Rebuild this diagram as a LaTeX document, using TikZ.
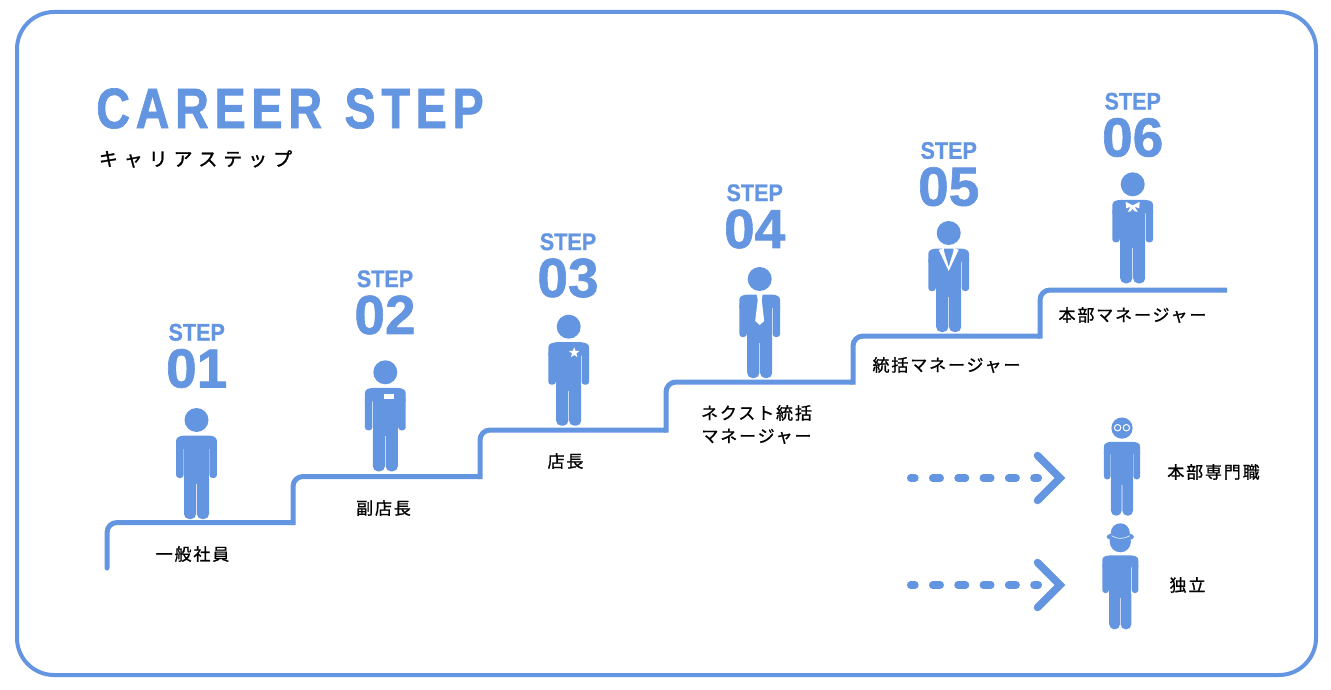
\documentclass[tikz,border=0pt]{standalone}
\usepackage{fontspec}
\usetikzlibrary{shapes.geometric}
\setmainfont{Liberation Sans}
\newfontfamily\titlefont[FakeStretch=.82,LetterSpace=10,WordSpace=1.2,FakeBold=1.2]{Liberation Sans}
\newfontfamily\stepfont[FakeStretch=.9,FakeBold=.9]{Liberation Sans}
\newfontfamily\numfont[FakeBold=1.2]{Liberation Sans}
\newfontfamily\jpfont[LetterSpace=11,FakeBold=1]{Noto Sans CJK JP}
\newfontfamily\jptitlefont[LetterSpace=31,FakeBold=1.3]{Noto Sans CJK JP}
\definecolor{careerblue}{HTML}{6495E0}
\tikzset{
	stepword/.style={text=careerblue,inner sep=0pt,font=\stepfont\bfseries\fontsize{24}{24}\selectfont},
	stepnum/.style={text=careerblue,inner sep=0pt,font=\numfont\bfseries\fontsize{55}{55}\selectfont},
	joblabel/.style={text=black,inner sep=0pt,align=center,font=\jpfont\fontsize{17}{23}\selectfont},
	stair/.style={draw=careerblue,line width=5pt,line cap=round,miter limit=10},
	dots/.style={draw=careerblue,line width=7.5pt,line cap=round,dash pattern=on 7.5pt off 17.8pt,dash phase=3.3pt},
	chevron/.style={draw=careerblue,line width=7.5pt,line cap=round,line join=miter},
	pics/staffman/.style={code={
		\fill[careerblue] (0,-99) circle (12);
		\fill[careerblue] (-20.4,-70) -- (-20.4,-78) .. controls (-20.4,-82) and (-17,-83) .. (-12,-83.5) -- (12,-83.5) .. controls (17,-83) and (20.4,-82) .. (20.4,-78) -- (20.4,-70) -- cycle;
		\fill[careerblue,rounded corners=3pt] (-20.4,-75) rectangle (-12.9,-41);
		\fill[careerblue,rounded corners=3pt] (12.9,-75) rectangle (20.4,-41);
		\fill[careerblue] (-12.5,-80) rectangle (12.5,-35);
		\fill[careerblue,rounded corners=5pt] (-12.5,-45) rectangle (-.4,0);
		\fill[careerblue,rounded corners=5pt] (.4,-45) rectangle (12.5,0);
		\fill[careerblue] (-12.5,-45) rectangle (12.5,-38);
	}},
	pics/nametag/.style={code={\fill[white] (-1,-77) rectangle (9,-72);}},
	pics/starbadge/.style={code={
		\node[star,star points=5,star point ratio=2.4,fill=white,inner sep=0pt,minimum size=11pt] (badge) at (5.5,-73) {};
	}},
	pics/longtie/.style={code={
		\fill[white] (-3,-84) -- (3,-84) -- (2,-78) -- (4.5,-57) -- (0,-53) -- (-4.5,-57) -- (-2,-78) -- cycle;
	}},
	pics/lapels/.style={code={
		\fill[white] (-10,-82) -- (-5,-84) -- (-4.5,-80) -- (0,-65) -- (4.5,-80) -- (5,-84) -- (10,-82) -- (8,-78) -- (0,-61) -- (-8,-78) -- cycle;
	}},
	pics/bowtie/.style={code={
		\fill[white] (-7,-81.5) -- (0,-78) -- (7,-81.5) -- (6.5,-75) -- (2,-76.5) -- (5,-71.5) -- (2,-72) -- (0,-74.5) -- (-2,-72) -- (-5,-71.5) -- (-2,-76.5) -- (-6.5,-75) -- cycle;
	}},
	pics/glasses/.style={code={
		\draw[white,line width=1pt] (-4.4,-88) circle (3.2) (4.4,-88) circle (3.2);
	}},
	pics/bowlerhat/.style={code={
		\fill[careerblue] (0,-96.5) circle (9.5);
		\fill[careerblue] (0,-92.5) ellipse (13.7 and 4.5);
		\draw[white,line width=.6pt] (-8.6,-93.6) .. controls (-4,-90) and (4,-90) .. (9.5,-93.6);
	}},
}
\begin{document}
\begin{tikzpicture}[x=1pt,y=-1pt]
	\useasboundingbox (0,0) rectangle (1331,690);
	\draw[careerblue,line width=4pt,rounded corners=37pt] (17,12) rectangle (1316,675);
	\node[inner sep=0pt,text=careerblue,font=\titlefont\bfseries\fontsize{57}{57}\selectfont] (title) at (290,108.5) {CAREER STEP};
	\node[inner sep=0pt,font=\jptitlefont\fontsize{19}{19}\selectfont] (subtitle) at (195.5,159) {キャリアステップ};
	% stairs
	\draw[stair] (107,568) [rounded corners=10pt] |- (293,522.5);
	\draw[stair,line cap=butt] (293,525) [rounded corners=10pt] |- (480,476.5);
	\draw[stair,line cap=butt] (480,479) [rounded corners=10pt] |- (666,430);
	\draw[stair,line cap=butt] (666,432.5) [rounded corners=10pt] |- (853,382);
	\draw[stair,line cap=butt] (853,384.5) [rounded corners=10pt] |- (1040,336);
	\draw[stair,line cap=butt] (1040,338.5) [rounded corners=10pt] |- (1227,290);
	% people
	\foreach \nm/\px/\fy in {01/196.5/519,02/385.3/471.3,03/568.7/425.7,04/759.7/378,05/948.7/332,06/1132.7/283.3}{
		\coordinate (man\nm) at (\px,\fy);
		\pic at (man\nm) {staffman};
	}
	\pic at (man02) {nametag};
	\pic at (man03) {starbadge};
	\pic at (man04) {longtie};
	\pic at (man05) {lapels};
	\pic at (man06) {bowtie};
	\foreach \nm/\px/\ny in {01/196.7/368.5,02/385/315,03/568/278,04/754.7/229,05/948.7/186.7,06/1132.7/137.5}{
		\node[stepnum] (num\nm) at (\px,\ny) {\nm};
		\node[stepword,above=0pt] (word\nm) at (\px,\ny-27.5) {STEP};
	}
	\node[joblabel] (job01) at (192.5,554) {一般社員};
	\node[joblabel] (job02) at (383.5,508) {副店長};
	\node[joblabel] (job03) at (565.5,461) {店長};
	\node[joblabel] (job04) at (756.5,424.5) {ネクスト統括\\マネージャー};
	\node[joblabel] (job05) at (946.5,365) {統括マネージャー};
	\node[joblabel] (job06) at (1132.5,315) {本部マネージャー};
	% other careers
	\coordinate (expert) at (1122,515.7);
	\coordinate (indep) at (1120.3,629.3);
	\pic[scale=.885] at (expert) {staffman};
	\pic at (expert) {glasses};
	\pic[scale=.885] at (indep) {staffman};
	\pic at (indep) {bowlerhat};
	\node[joblabel] (job07) at (1213.5,472) {本部専門職};
	\node[joblabel] (job08) at (1187.5,585) {独立};
	\foreach \ay/\nm in {478/expert,585/indep}{
		\coordinate (tail\nm) at (910.7,\ay);
		\coordinate (head\nm) at (1038.3,\ay);
		\coordinate (tip\nm) at (1060,\ay);
		\draw[dots] (tail\nm) -- (head\nm);
		\draw[chevron] (1037.5,\ay-22.5) -- (tip\nm) -- (1037.5,\ay+22.5);
	}
\end{tikzpicture}
\end{document}
